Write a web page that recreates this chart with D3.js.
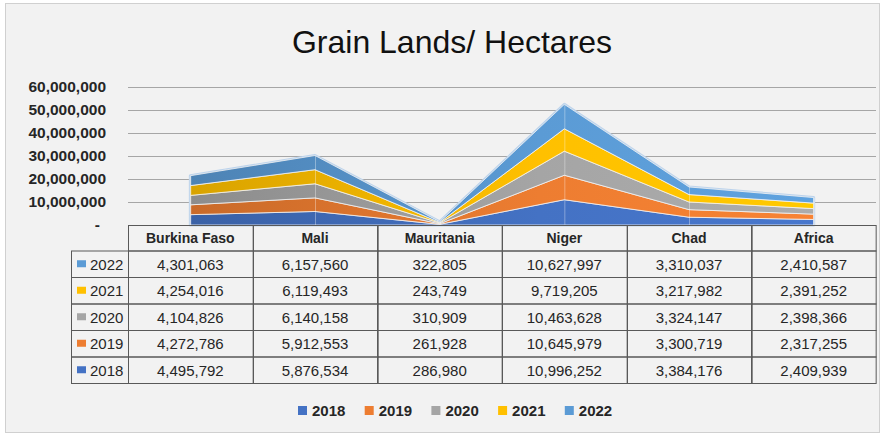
<!DOCTYPE html>
<html>
<head>
<meta charset="utf-8">
<script src="https://cdn.jsdelivr.net/npm/d3@7"></script>
<style>
  body { margin: 0; background: #fff; }
  svg { display: block; font-family: "Liberation Sans", Arial, sans-serif; }
</style>
</head>
<body>
<div id="chart"></div>
<script>
// data
const categories = ["Burkina Faso", "Mali", "Mauritania", "Niger", "Chad", "Africa"];
const years = ["2018", "2019", "2020", "2021", "2022"];
const v2018 = [4495792, 5876534, 286980, 10996252, 3384176, 2409939];
const v2019 = [4272786, 5912553, 261928, 10645979, 3300719, 2317255];
const v2020 = [4104826, 6140158, 310909, 10463628, 3324147, 2398366];
const v2021 = [4254016, 6119493, 243749, 9719205, 3217982, 2391252];
const v2022 = [4301063, 6157560, 322805, 10627997, 3310037, 2410587];
const yTicks = [0, 10000000, 20000000, 30000000, 40000000, 50000000, 60000000];

const seriesValues = { "2018": v2018, "2019": v2019, "2020": v2020, "2021": v2021, "2022": v2022 };
const colors = { "2018": "#4472c4", "2019": "#ed7d31", "2020": "#a5a5a5", "2021": "#ffc000", "2022": "#5b9bd5" };

const W = 884, H = 436;
const plot = { left: 128, right: 876, top: 87, bottom: 225 };

// rows for d3.stack
const rows = categories.map((c, i) => {
    const r = { cat: c };
    years.forEach(y => r[y] = seriesValues[y][i]);
    return r;
});

const svg = d3.select("#chart").append("svg")
    .attr("width", W)
    .attr("height", H);

const defs = svg.append("defs");

// chart background + border
svg.append("rect")
    .attr("x", 5.5).attr("y", 3.5)
    .attr("width", 874).attr("height", 429)
    .attr("fill", "#f2f2f2")
    .attr("stroke", "#d0d0d0");

// title
svg.append("text")
    .attr("x", 452).attr("y", 53)
    .attr("text-anchor", "middle")
    .attr("font-size", 32)
    .attr("fill", "#111")
    .text("Grain Lands/ Hectares");

const xBand = d3.scaleBand()
    .domain(categories)
    .range([plot.left, plot.right]);
const xc = c => xBand(c) + xBand.bandwidth() / 2;

const yScale = d3.scaleLinear()
    .domain([0, 60000000])
    .range([plot.bottom, plot.top]);

// gridlines
svg.append("g")
    .selectAll("line")
    .data(yTicks.filter(t => t > 0))
    .join("line")
    .attr("x1", plot.left).attr("x2", plot.right)
    .attr("y1", d => Math.round(yScale(d)) + 0.5)
    .attr("y2", d => Math.round(yScale(d)) + 0.5)
    .attr("stroke", "#a6a6a6")
    .attr("stroke-width", 1);

// y axis labels
const yAxis = svg.append("g")
    .attr("transform", "translate(106,0)")
    .call(d3.axisLeft(yScale)
        .tickValues(yTicks)
        .tickSize(0)
        .tickPadding(0)
        .tickFormat(d => d === 0 ? "-" : d3.format(",")(d)));
yAxis.select(".domain").remove();
yAxis.selectAll("text")
    .attr("font-size", 15.5)
    .attr("font-weight", "bold")
    .attr("font-family", "'Liberation Sans', Arial, sans-serif")
    .attr("fill", "#262626")
    .attr("dx", d => d === 0 ? -6 : 0);

// gradients per series (darker on the left)
years.forEach(y => {
    const base = d3.color(colors[y]);
    const g = defs.append("linearGradient")
        .attr("id", "grad" + y)
        .attr("gradientUnits", "userSpaceOnUse")
        .attr("x1", plot.left).attr("x2", plot.right)
        .attr("y1", 0).attr("y2", 0);
    g.append("stop").attr("offset", "0%").attr("stop-color", base.darker(0.55));
    g.append("stop").attr("offset", "55%").attr("stop-color", base);
    g.append("stop").attr("offset", "100%").attr("stop-color", base.brighter(0.15));
});

const stack = d3.stack().keys(years);
const stacked = stack(rows);

const area = d3.area()
    .x(d => xc(d.data.cat))
    .y0(d => yScale(d[0]))
    .y1(d => yScale(d[1]));

// soft glow around the whole stack
const topLayer = stacked[stacked.length - 1];
svg.append("path")
    .datum(topLayer)
    .attr("d", d3.area().x(d => xc(d.data.cat)).y0(yScale(0)).y1(d => yScale(d[1])))
    .attr("fill", "none")
    .attr("stroke", "#bcd3ec")
    .attr("stroke-width", 3)
    .attr("stroke-linejoin", "round");

svg.append("g")
    .selectAll("path")
    .data(stacked)
    .join("path")
    .attr("d", area)
    .attr("fill", d => `url(#grad${d.key})`)
    .attr("stroke", "#f2f2f2")
    .attr("stroke-opacity", 0.8)
    .attr("stroke-width", 1);

// light drop lines at category centres
svg.append("g")
    .selectAll("line")
    .data(topLayer)
    .join("line")
    .attr("x1", d => xc(d.data.cat) + 0.5)
    .attr("x2", d => xc(d.data.cat) + 0.5)
    .attr("y1", yScale(0))
    .attr("y2", d => yScale(d[1]))
    .attr("stroke", "#ffffff")
    .attr("stroke-opacity", 0.35);

// data table
const tableTop = 225.5, headerH = 25.5, legendColLeft = 71;
const rowOrder = years.slice().reverse();
const yRow = d3.scaleBand()
    .domain(rowOrder)
    .range([tableTop + headerH, 383.5]);

const tbl = svg.append("g");
const lineColor = "#595959";

// header cells
tbl.selectAll("rect.head")
    .data(categories)
    .join("rect")
    .attr("class", "head")
    .attr("x", d => Math.round(xBand(d)) + 0.5)
    .attr("y", tableTop)
    .attr("width", xBand.bandwidth())
    .attr("height", headerH)
    .attr("fill", "none")
    .attr("stroke", lineColor);

tbl.selectAll("text.head")
    .data(categories)
    .join("text")
    .attr("class", "head")
    .attr("x", d => xc(d))
    .attr("y", tableTop + headerH / 2 + 5)
    .attr("text-anchor", "middle")
    .attr("font-size", 14)
    .attr("font-weight", "bold")
    .attr("fill", "#262626")
    .text(d => d);

// row label cells
tbl.selectAll("rect.rowlab")
    .data(rowOrder)
    .join("rect")
    .attr("class", "rowlab")
    .attr("x", legendColLeft + 0.5)
    .attr("y", d => yRow(d))
    .attr("width", plot.left - legendColLeft)
    .attr("height", yRow.bandwidth())
    .attr("fill", "none")
    .attr("stroke", lineColor);

tbl.selectAll("rect.rowkey")
    .data(rowOrder)
    .join("rect")
    .attr("class", "rowkey")
    .attr("x", 77)
    .attr("y", d => yRow(d) + yRow.bandwidth() / 2 - 4)
    .attr("width", 9)
    .attr("height", 7)
    .attr("fill", d => colors[d]);

tbl.selectAll("text.rowlab")
    .data(rowOrder)
    .join("text")
    .attr("class", "rowlab")
    .attr("x", 90)
    .attr("y", d => yRow(d) + yRow.bandwidth() / 2 + 5.5)
    .attr("font-size", 15)
    .attr("fill", "#262626")
    .text(d => d);

// value cells
const cells = [];
rowOrder.forEach(y => categories.forEach((c, i) => cells.push({ year: y, cat: c, value: seriesValues[y][i] })));

tbl.selectAll("rect.cell")
    .data(cells)
    .join("rect")
    .attr("class", "cell")
    .attr("x", d => Math.round(xBand(d.cat)) + 0.5)
    .attr("y", d => yRow(d.year))
    .attr("width", xBand.bandwidth())
    .attr("height", yRow.bandwidth())
    .attr("fill", "none")
    .attr("stroke", lineColor);

tbl.selectAll("text.cell")
    .data(cells)
    .join("text")
    .attr("class", "cell")
    .attr("x", d => xc(d.cat))
    .attr("y", d => yRow(d.year) + yRow.bandwidth() / 2 + 5.5)
    .attr("text-anchor", "middle")
    .attr("font-size", 15)
    .attr("fill", "#262626")
    .text(d => d3.format(",")(d.value));

// bottom legend
const legendStep = 66.7;
const legendX = d3.scalePoint()
    .domain(years)
    .range([298, 298 + legendStep * (years.length - 1)]);

const leg = svg.append("g")
    .selectAll("g")
    .data(years)
    .join("g")
    .attr("transform", d => `translate(${legendX(d)},405)`);

leg.append("rect")
    .attr("width", 9).attr("height", 9)
    .attr("y", 1)
    .attr("fill", d => colors[d]);

leg.append("text")
    .attr("x", 14)
    .attr("y", 11)
    .attr("font-size", 15)
    .attr("font-weight", "bold")
    .attr("fill", "#262626")
    .text(d => d);
</script>
</body>
</html>
